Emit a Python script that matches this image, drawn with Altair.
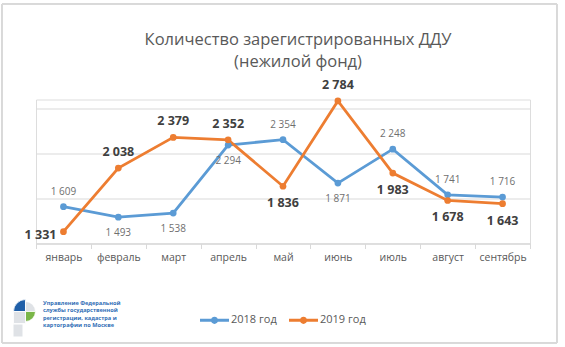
import altair as alt
import pandas as pd

months = ["январь", "февраль", "март", "апрель", "май", "июнь", "июль", "август", "сентябрь"]
series_names = ["2018 год", "2019 год"]
values_2018 = [1609, 1493, 1538, 2294, 2354, 1871, 2248, 1741, 1716]
values_2019 = [1331, 2038, 2379, 2352, 1836, 2784, 1983, 1678, 1643]
place_2018 = ["above", "below", "below", "below", "above", "below", "above", "above", "above"]
place_2019 = ["left", "above", "above", "above", "below", "above", "below", "below", "below"]
y_grid = [1200, 1700, 2200, 2700]
title_lines = ["Количество зарегистрированных ДДУ", "(нежилой фонд)"]
logo_lines = ["Управление Федеральной", "службы государственной",
              "регистрации, кадастра и", "картографии по Москве"]

rows = []
for name, vals, places in [(series_names[0], values_2018, place_2018),
                           (series_names[1], values_2019, place_2019)]:
    for m, v, p in zip(months, vals, places):
        rows.append({"month": m, "series": name, "value": v,
                     "label": f"{v:,}".replace(",", " "), "place": p})
df = pd.DataFrame(rows)

FONT = "Open Sans"
colors = ["#5B9BD5", "#ED7D31"]

x_enc = alt.X("month:N", sort=months, bandPosition=0.5,
              scale=alt.Scale(type="band", paddingInner=0, paddingOuter=0),
              axis=alt.Axis(title=None, labelAngle=0, tickBand="extent", domainColor="#d9d9d9",
                            tickColor="#d9d9d9", tickSize=5, labelPadding=4, labelFont=FONT,
                            labelFontSize=10.5, labelColor="#595959", grid=False))
y_enc = alt.Y("value:Q", scale=alt.Scale(domain=[1200, 2800], nice=False, zero=False),
              axis=alt.Axis(title=None, values=y_grid, labels=False, ticks=False, domain=False,
                            grid=True, gridColor="#d9d9d9", gridWidth=1))

legend_path = ("M-1,-0.1L1,-0.1L1,0.1L-1,0.1Z "
               "M-0.25,0A0.25,0.25,0,1,1,0.25,0A0.25,0.25,0,1,1,-0.25,0Z")
color_enc = alt.Color("series:N", scale=alt.Scale(domain=series_names, range=colors),
                      legend=alt.Legend(title=None, orient="none", direction="horizontal",
                                        legendX=164, legendY=206, symbolType=legend_path,
                                        symbolSize=841, symbolStrokeWidth=0, labelOffset=2,
                                        columnPadding=12, labelFont=FONT, labelFontSize=11,
                                        labelColor="#595959"))

base = alt.Chart(df)

border = base.mark_rect(fillOpacity=0, stroke="#d9d9d9", strokeWidth=1).encode(
    x=alt.value(-34), x2=alt.value(521), y=alt.value(-95.5), y2=alt.value(243.5))

lines = base.mark_line(strokeWidth=2.8).encode(x=x_enc, y=y_enc, color=color_enc)
points = base.mark_point(filled=True, size=45, opacity=1).encode(x=x_enc, y=y_enc, color=color_enc)

lab18 = base.transform_filter(alt.datum.series == series_names[0])
lab19 = base.transform_filter(alt.datum.series == series_names[1])

t18_above = lab18.transform_filter(alt.datum.place == "above").mark_text(
    font=FONT, fontSize=10, color="#6f6f6f", dy=-15, baseline="middle").encode(x=x_enc, y=y_enc, text="label:N")
t18_below = lab18.transform_filter(alt.datum.place == "below").mark_text(
    font=FONT, fontSize=10, color="#6f6f6f", dy=16, baseline="middle").encode(x=x_enc, y=y_enc, text="label:N")
t19_above = lab19.transform_filter(alt.datum.place == "above").mark_text(
    font=FONT, fontSize=12.5, fontWeight="bold", color="#404040", dy=-16, baseline="middle").encode(x=x_enc, y=y_enc, text="label:N")
t19_below = lab19.transform_filter(alt.datum.place == "below").mark_text(
    font=FONT, fontSize=12.5, fontWeight="bold", color="#404040", dy=17, baseline="middle").encode(x=x_enc, y=y_enc, text="label:N")
t19_left = lab19.transform_filter(alt.datum.place == "left").mark_text(
    font=FONT, fontSize=12.5, fontWeight="bold", color="#404040", dx=-7, dy=3, align="right", baseline="middle").encode(x=x_enc, y=y_enc, text="label:N")

one = pd.DataFrame({"a": [0]})
title = alt.Chart(one).mark_text(
    text=title_lines, font=FONT, fontSize=16.5, color="#595959", lineHeight=22,
    align="center", baseline="alphabetic").encode(x=alt.value(262), y=alt.value(-54.5))

logo_text = alt.Chart(one).mark_text(
    text=logo_lines, font=FONT, fontSize=5.6, fontWeight="bold", color="#2f6db5", lineHeight=7.3,
    align="left", baseline="middle").encode(x=alt.value(7), y=alt.value(203.5))

icon_x, icon_y = -10.5, 212
arc_blue = alt.Chart(one).mark_arc(
    theta=4.712, theta2=6.283, radius=12, fill="#1f5fa8", stroke="white", strokeWidth=0.8).encode(
    x=alt.value(icon_x), y=alt.value(icon_y))
arc_grey = alt.Chart(one).mark_arc(
    theta=0, theta2=1.571, radius=10, fill="#dfe2e6", stroke="white", strokeWidth=0.8).encode(
    x=alt.value(icon_x), y=alt.value(icon_y))
arc_green = alt.Chart(one).mark_arc(
    theta=1.571, theta2=3.142, radius=10, fill="#7ab648", stroke="white", strokeWidth=0.8).encode(
    x=alt.value(icon_x), y=alt.value(icon_y))
sq_grey = alt.Chart(one).mark_rect(
    fill="#dfe2e6", stroke="white", strokeWidth=0.8).encode(
    x=alt.value(icon_x - 12), x2=alt.value(icon_x), y=alt.value(icon_y), y2=alt.value(icon_y + 12))
stem = alt.Chart(one).mark_rect(
    fill="#dfe2e6").encode(
    x=alt.value(icon_x - 12), x2=alt.value(icon_x - 3), y=alt.value(icon_y + 13), y2=alt.value(icon_y + 25))

chart = alt.layer(border, lines, points, t18_above, t18_below, t19_above, t19_below, t19_left,
                  title, logo_text, arc_blue, arc_grey, arc_green, sq_grey, stem).properties(
    width=494, height=144,
    autosize=alt.AutoSizeParams(type="none"),
    padding={"left": 36, "top": 99.5, "right": 35, "bottom": 103.5},
).configure_view(stroke=None).configure(background="white")

chart.save("out.html", embed_options={"renderer": "svg", "actions": False})
